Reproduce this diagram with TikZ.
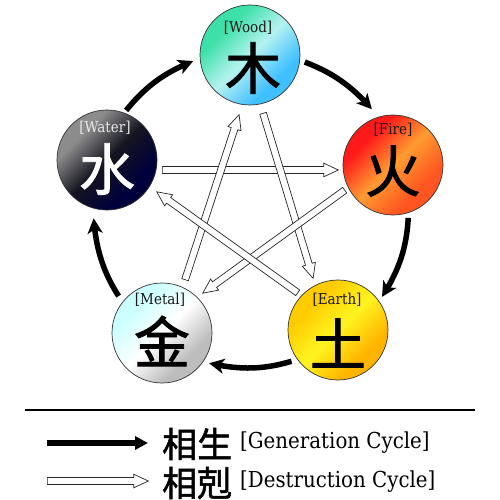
\documentclass[tikz,border=0pt]{standalone}
\usepackage{fontspec}
\setmainfont{DejaVu Serif}
\newfontfamily\narrowserif[FakeStretch=0.9]{DejaVu Serif}
\newfontfamily\cjk[FakeBold=1.5]{Noto Sans CJK TC}
\usetikzlibrary{arrows.meta,shapes.arrows,calc,bending}
\definecolor{woodA}{HTML}{3DE0A8}
\definecolor{woodB}{HTML}{B4F2F0}
\definecolor{woodC}{HTML}{40C0FF}
\definecolor{fireA}{HTML}{FF1A1A}
\definecolor{fireB}{HTML}{FF9C30}
\definecolor{fireC}{HTML}{FF5520}
\definecolor{waterA}{HTML}{8C8C8C}
\definecolor{waterB}{HTML}{141420}
\definecolor{waterC}{HTML}{00003C}
\definecolor{metalA}{HTML}{CCFFFF}
\definecolor{metalB}{HTML}{FFFFFF}
\definecolor{metalC}{HTML}{BDBDBD}
\definecolor{earthA}{HTML}{FFCC00}
\definecolor{earthB}{HTML}{FFF420}
\definecolor{earthC}{HTML}{FFB400}
\pgfdeclarehorizontalshading{woodsh}{100bp}{color(0bp)=(woodA); color(32bp)=(woodA); color(50bp)=(woodB); color(68bp)=(woodC); color(100bp)=(woodC)}
\pgfdeclarehorizontalshading{firesh}{100bp}{color(0bp)=(fireA); color(32bp)=(fireA); color(50bp)=(fireB); color(68bp)=(fireC); color(100bp)=(fireC)}
\pgfdeclarehorizontalshading{watersh}{100bp}{color(0bp)=(waterA); color(32bp)=(waterA); color(50bp)=(waterB); color(68bp)=(waterC); color(100bp)=(waterC)}
\pgfdeclarehorizontalshading{metalsh}{100bp}{color(0bp)=(metalA); color(32bp)=(metalA); color(50bp)=(metalB); color(68bp)=(metalC); color(100bp)=(metalC)}
\pgfdeclarehorizontalshading{earthsh}{100bp}{color(0bp)=(earthA); color(32bp)=(earthA); color(50bp)=(earthB); color(68bp)=(earthC); color(100bp)=(earthC)}
\newcommand\hollowarrow[3]{%
  \path let \p1=($(#2)-(#1)$), \n1={veclen(\x1,\y1)}, \n2={atan2(\y1,\x1)} in
    node[destr, minimum height=\n1, rotate=\n2] (#3) at (#1) {};}
\begin{document}
\begin{tikzpicture}[x=1pt,y=-1pt,
  elem/.style={circle, draw=black!80, line width=0.7pt, minimum size=100pt, inner sep=0pt, shade, shading angle=-45},
  lbl/.style={font=\narrowserif\fontsize{15}{17}\selectfont, text=black!90, inner sep=0pt},
  han/.style={font=\cjk\fontsize{56}{60}\selectfont, inner sep=0pt},
  gen/.style={line width=5.5pt, -{Stealth[length=15pt,width=15pt,inset=4pt]}},
  destr/.style={single arrow, draw=black!85, fill=white, line width=0.7pt, inner xsep=0pt, inner ysep=3.1pt, single arrow head extend=3.4pt, single arrow tip angle=50, anchor=tail},
  legtxt/.style={font=\narrowserif\fontsize{22}{26}\selectfont, inner sep=0pt, anchor=west},
  leghan/.style={font=\cjk\fontsize{35}{40}\selectfont, inner sep=0pt, anchor=west}]
\useasboundingbox (0,0) rectangle (500,500);
% elements
\node[elem, shading=woodsh] (wood) at (250,55) {};
\node[elem, shading=firesh] (fire) at (393,165) {};
\node[elem, shading=earthsh] (earth) at (338,330) {};
\node[elem, shading=metalsh] (metal) at (162,333) {};
\node[elem, shading=watersh] (water) at (107,160) {};
\node[lbl] (woodlbl) at (248,28) {[Wood]};
\node[han] (woodhan) at (253,68) {木};
\node[lbl] (firelbl) at (393,130) {[Fire]};
\node[han] (firehan) at (393,171) {火};
\node[lbl, text=white!92!black] (waterlbl) at (105,128) {[Water]};
\node[han, text=white] (waterhan) at (107,169) {水};
\node[lbl] (metallbl) at (160,300) {[Metal]};
\node[han] (metalhan) at (162,341) {金};
\node[lbl] (earthlbl) at (337,300) {[Earth]};
\node[han] (earthhan) at (338,343) {土};
% generation cycle
\draw[gen, shorten <=3pt, shorten >=7pt] (water.70) to[bend left=15] (wood.184);
\draw[gen, shorten <=5pt, shorten >=10pt] (wood.354) to[bend left=15] (fire.107);
\draw[gen, shorten <=5pt, shorten >=5pt] (fire.288) to[bend left=15] (earth.35);
\draw[gen, shorten <=6pt, shorten >=6pt] (earth.216) to[bend left=15] (metal.325);
\draw[gen, shorten <=7pt, shorten >=10pt] (metal.142) to[bend left=15] (water.254);
% destruction cycle
\coordinate (wfT) at (162,170); \coordinate (wfH) at (338,170);
\coordinate (weT) at (263,113); \coordinate (weH) at (313,278);
\coordinate (mwT) at (185,280); \coordinate (mwH) at (239,115);
\coordinate (fmT) at (345,190); \coordinate (fmH) at (203,293);
\coordinate (ewT) at (298,293); \coordinate (ewH) at (157,192);
\hollowarrow{wfT}{wfH}{dwf}
\hollowarrow{weT}{weH}{dwe}
\hollowarrow{mwT}{mwH}{dmw}
\hollowarrow{fmT}{fmH}{dfm}
\hollowarrow{ewT}{ewH}{dew}
% legend
\coordinate (lineL) at (25,410); \coordinate (lineR) at (475,410);
\draw[line width=2pt] (lineL) -- (lineR);
\coordinate (lg1a) at (47,443); \coordinate (lg1b) at (148,443);
\draw[line width=5.5pt, -{Triangle[length=13pt,width=13pt]}] (lg1a) -- (lg1b);
\coordinate (lg2a) at (47,481); \coordinate (lg2b) at (148,481);
\hollowarrow{lg2a}{lg2b}{lgd}
\node[leghan] (xsheng) at (162,444) {相生};
\node[legtxt] (gentxt) at (240,443) {[Generation Cycle]};
\node[leghan] (xke) at (162,483) {相剋};
\node[legtxt] (destxt) at (240,482) {[Destruction Cycle]};
\end{tikzpicture}
\end{document}
